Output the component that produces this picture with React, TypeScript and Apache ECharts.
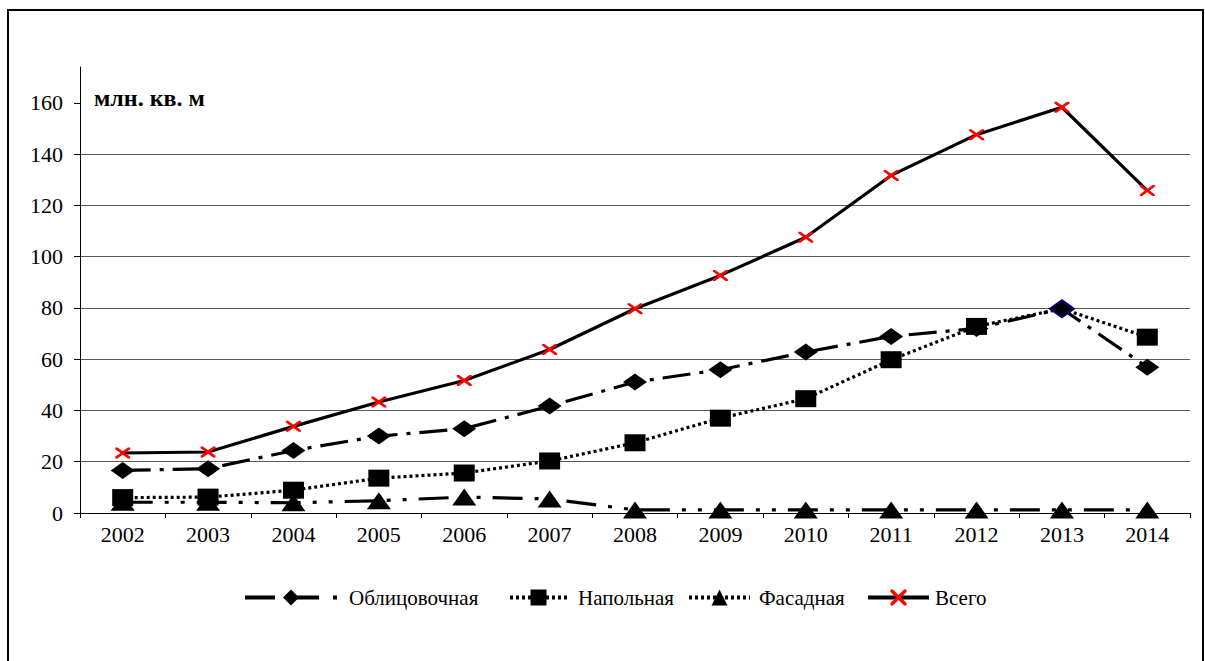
import React, { useEffect, useRef } from 'react';
import * as echarts from 'echarts';

const YEARS = ['2002', '2003', '2004', '2005', '2006', '2007', '2008', '2009', '2010', '2011', '2012', '2013', '2014'];
const Y_TICKS = [0, 20, 40, 60, 80, 100, 120, 140, 160];
const Y_MAX = 174;

const NAME_OBLITS = 'Облицовочная';
const NAME_NAPOL = 'Напольная';
const NAME_FASAD = 'Фасадная';
const NAME_TOTAL = 'Всего';
const UNIT_LABEL = 'млн. кв. м';

const OBLITS = [16.6, 17.3, 24.4, 30.0, 32.9, 41.7, 51.1, 55.9, 62.8, 68.9, 72.0, 79.7, 56.9];
const NAPOL = [6.0, 6.2, 8.9, 13.6, 15.6, 20.3, 27.4, 37.0, 44.6, 59.8, 72.8, 79.7, 68.6];
const FASAD = [4.2, 4.2, 4.0, 4.8, 6.2, 5.5, 1.2, 1.2, 1.2, 1.2, 1.2, 1.2, 1.2];
const TOTAL = [23.4, 23.8, 33.8, 43.3, 51.7, 63.8, 79.7, 92.7, 107.6, 131.7, 147.6, 158.3, 125.8];

const X_SYMBOL =
  'path://M0,0 L3,0 L10,7 L17,0 L20,0 L20,3 L13,10 L20,17 L20,20 L17,20 L10,13 L3,20 L0,20 L0,17 L7,10 L0,3 Z';

const DASH_OBLITS = [28, 9, 4, 9];
const DASH_NAPOL = [3, 3];
const DASH_FASAD = [30, 12, 4, 12, 4, 12];

export default function App() {
  const ref = useRef<HTMLDivElement>(null);

  useEffect(() => {
    if (!ref.current) return;
    const chart = echarts.init(ref.current, null, { renderer: 'svg' });
    const FONT = "'Times New Roman', 'Liberation Serif', serif";

    const legendBase = {
      top: 582,
      orient: 'horizontal',
      itemHeight: 20,
      selectedMode: false,
    };
    const legendText = (pad: number) => ({
      fontFamily: FONT,
      fontSize: 21,
      color: '#000',
      padding: [0, 0, 0, pad],
    });

    const option = {
      animation: false,
      backgroundColor: '#fff',
      textStyle: { fontFamily: FONT },
      title: {
        text: UNIT_LABEL,
        left: 89,
        top: 81,
        textStyle: { fontFamily: FONT, fontSize: 24, fontWeight: 'bold', color: '#000' },
      },
      graphic: [
        {
          type: 'rect',
          shape: { x: 8, y: 10, width: 1195, height: 700 },
          style: { fill: 'none', stroke: '#000', lineWidth: 2 },
          silent: true,
        },
      ],
      legend: [
        {
          ...legendBase,
          left: 238,
          itemWidth: 92,
          data: [NAME_OBLITS],
          textStyle: legendText(7),
          lineStyle: { width: 4, type: [30, 14], color: '#000' },
        },
        {
          ...legendBase,
          left: 503,
          itemWidth: 57,
          data: [NAME_NAPOL],
          textStyle: legendText(6),
          lineStyle: { width: 4, type: DASH_NAPOL, color: '#000' },
        },
        {
          ...legendBase,
          left: 682,
          itemWidth: 61,
          data: [NAME_FASAD],
          textStyle: legendText(4),
          lineStyle: { width: 4, type: DASH_NAPOL, color: '#000' },
        },
        {
          ...legendBase,
          left: 861,
          itemWidth: 61,
          data: [NAME_TOTAL],
          textStyle: legendText(1),
          lineStyle: { width: 4, type: 'solid', color: '#000' },
        },
      ],
      grid: { left: 80, right: 15, top: 67, bottom: 148, containLabel: false },
      xAxis: {
        type: 'category',
        data: YEARS,
        boundaryGap: true,
        axisLine: { show: true, lineStyle: { color: '#000', width: 1 } },
        axisTick: { show: true, interval: 0, length: 5, lineStyle: { color: '#000' } },
        axisLabel: { interval: 0, fontFamily: FONT, fontSize: 22, color: '#000', margin: 10 },
        splitLine: { show: false },
      },
      yAxis: {
        type: 'value',
        min: 0,
        max: Y_MAX,
        interval: 20,
        axisLine: { show: true, lineStyle: { color: '#000', width: 1 } },
        axisTick: { show: true, length: 6, customValues: Y_TICKS, lineStyle: { color: '#000' } },
        axisLabel: { fontFamily: FONT, fontSize: 22, color: '#000', margin: 17, customValues: Y_TICKS },
        splitLine: { show: true, showMinLine: false, showMaxLine: false, lineStyle: { color: '#5a5a5a', width: 1 } },
      },
      series: [
        {
          name: NAME_OBLITS,
          type: 'line',
          data: OBLITS.map((v, i) =>
            i === 11 ? { value: v, itemStyle: { color: '#000', borderColor: '#000080', borderWidth: 2 } } : v
          ),
          symbol: 'diamond',
          symbolSize: [24, 17],
          lineStyle: { color: '#000', width: 3.2, type: DASH_OBLITS, cap: 'butt' },
          itemStyle: { color: '#000' },
          z: 2,
        },
        {
          name: NAME_NAPOL,
          type: 'line',
          data: NAPOL.map((v, i) => (i === 11 ? { value: v, symbol: 'none' } : v)),
          symbol: 'rect',
          symbolSize: [21, 17],
          lineStyle: { color: '#000', width: 3.2, type: DASH_NAPOL, cap: 'butt' },
          itemStyle: { color: '#000' },
          z: 2,
        },
        {
          name: NAME_FASAD,
          type: 'line',
          data: FASAD,
          symbol: 'triangle',
          symbolSize: [24, 17],
          lineStyle: { color: '#000', width: 3.2, type: DASH_FASAD, cap: 'butt' },
          itemStyle: { color: '#000' },
          z: 2,
        },
        {
          name: NAME_TOTAL,
          type: 'line',
          data: TOTAL,
          symbol: X_SYMBOL,
          symbolSize: [15, 11],
          lineStyle: { color: '#000', width: 3.2, type: 'solid' },
          itemStyle: { color: '#ff0000' },
          z: 3,
        },
      ],
    };

    chart.setOption(option as any);
    return () => chart.dispose();
  }, []);

  return (
    <div
      ref={ref}
      style={{ position: 'absolute', left: 0, top: 0, width: 1205, height: 661, background: '#fff' }}
    />
  );
}
